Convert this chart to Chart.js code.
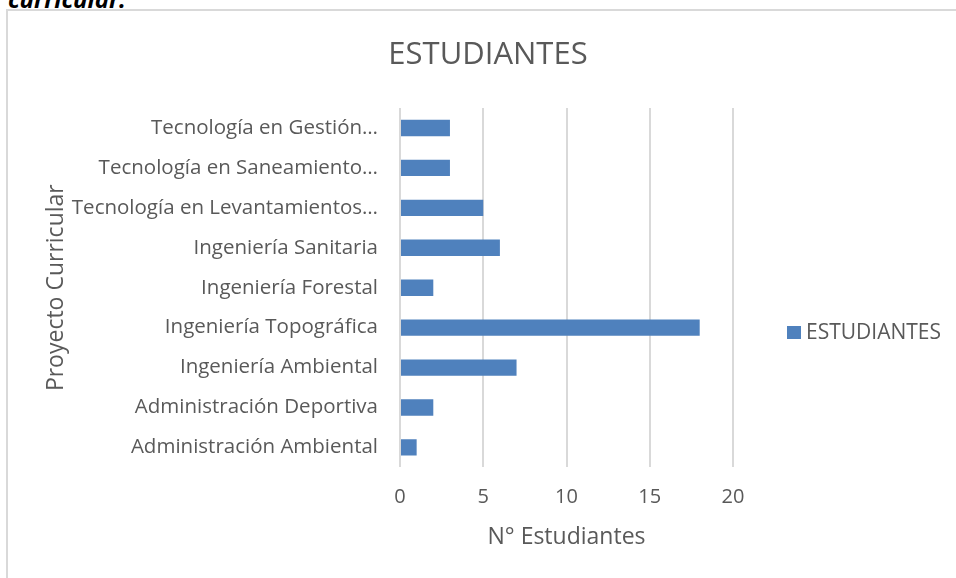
<!DOCTYPE html>
<html>
<head>
<meta charset="utf-8">
<script src="https://cdn.jsdelivr.net/npm/chart.js@4.4.0/dist/chart.umd.min.js"></script>
<style>
  body { margin: 0; background: #fff; }
  #wrap { position: relative; width: 956px; height: 578px; overflow: hidden; }
  #caption { position: absolute; left: 8px; top: -18px; font: italic bold 24px "Open Sans", sans-serif; color: #000; }
  #frame { position: absolute; left: 6px; top: 9px; width: 1000px; height: 600px; border: 2px solid #d9d9d9; }
  #chart { position: absolute; left: 0; top: 0; }
</style>
</head>
<body>
<div id="wrap">
  <div id="caption">curricular.</div>
  <div id="frame"></div>
  <canvas id="chart" width="956" height="578"></canvas>
</div>
<script>
const proyectos = [
    'Tecnología en Gestión…',
    'Tecnología en Saneamiento…',
    'Tecnología en Levantamientos…',
    'Ingeniería Sanitaria',
    'Ingeniería Forestal',
    'Ingeniería Topográfica',
    'Ingeniería Ambiental',
    'Administración Deportiva',
    'Administración Ambiental'
]
const estudiantes = [3, 3, 5, 6, 2, 18, 7, 2, 1]
const xTicks = [0, 5, 10, 15, 20]
const titulo = 'ESTUDIANTES'

const gris = '#595959'
const azul = '#4f81bd'

// title and legend drawn by hand, to sit where the original ones sit
const sidePlugin = {
    id: 'sideBits',
    afterDraw(chart) {
        const ctx = chart.ctx
        const ds = chart.data.datasets[0]
        ctx.save()
        ctx.fillStyle = gris
        ctx.font = '31px "Open Sans"'
        ctx.textAlign = 'center'
        ctx.textBaseline = 'middle'
        ctx.fillText(titulo, 488, 55)

        ctx.fillStyle = ds.backgroundColor
        ctx.fillRect(787, 326, 14, 13)
        ctx.fillStyle = gris
        ctx.font = '21px "Open Sans"'
        ctx.textAlign = 'left'
        ctx.fillText(ds.label, 806, 333)
        ctx.restore()
    }
}

const config = {
    type: 'bar',
    data: {
        labels: proyectos,
        datasets: [{
            label: 'ESTUDIANTES',
            data: estudiantes,
            backgroundColor: azul,
            barPercentage: 0.41,
            categoryPercentage: 1
        }]
    },
    options: {
        indexAxis: 'y',
        responsive: false,
        animation: false,
        layout: { padding: { top: 108, left: 40, right: 223, bottom: 27 } },
        plugins: {
            legend: { display: false },
            tooltip: { enabled: false },
            title: { display: false }
        },
        scales: {
            x: {
                min: xTicks[0],
                max: xTicks[xTicks.length - 1],
                afterBuildTicks: (scale) => { scale.ticks = xTicks.map(v => ({ value: v })) },
                grid: { color: '#d9d9d9', lineWidth: 2, drawTicks: false },
                border: { display: false },
                ticks: { color: gris, padding: 18, font: { family: 'Open Sans', size: 20 } },
                title: {
                    display: true,
                    text: 'N° Estudiantes',
                    color: gris,
                    font: { family: 'Open Sans', size: 23 },
                    padding: { top: -4, bottom: 0 }
                }
            },
            y: {
                grid: { display: false },
                border: { display: false },
                ticks: { color: gris, padding: 14, autoSkip: false, font: { family: 'Open Sans', size: 20.5 } },
                title: {
                    display: true,
                    text: 'Proyecto Curricular',
                    color: gris,
                    font: { family: 'Open Sans', size: 23 },
                    padding: { top: 3, bottom: 0 }
                },
                afterFit: (scale) => { scale.width = 400 - 40 }
            }
        }
    },
    plugins: [sidePlugin]
}

new Chart(document.getElementById('chart'), config)
</script>
</body>
</html>
